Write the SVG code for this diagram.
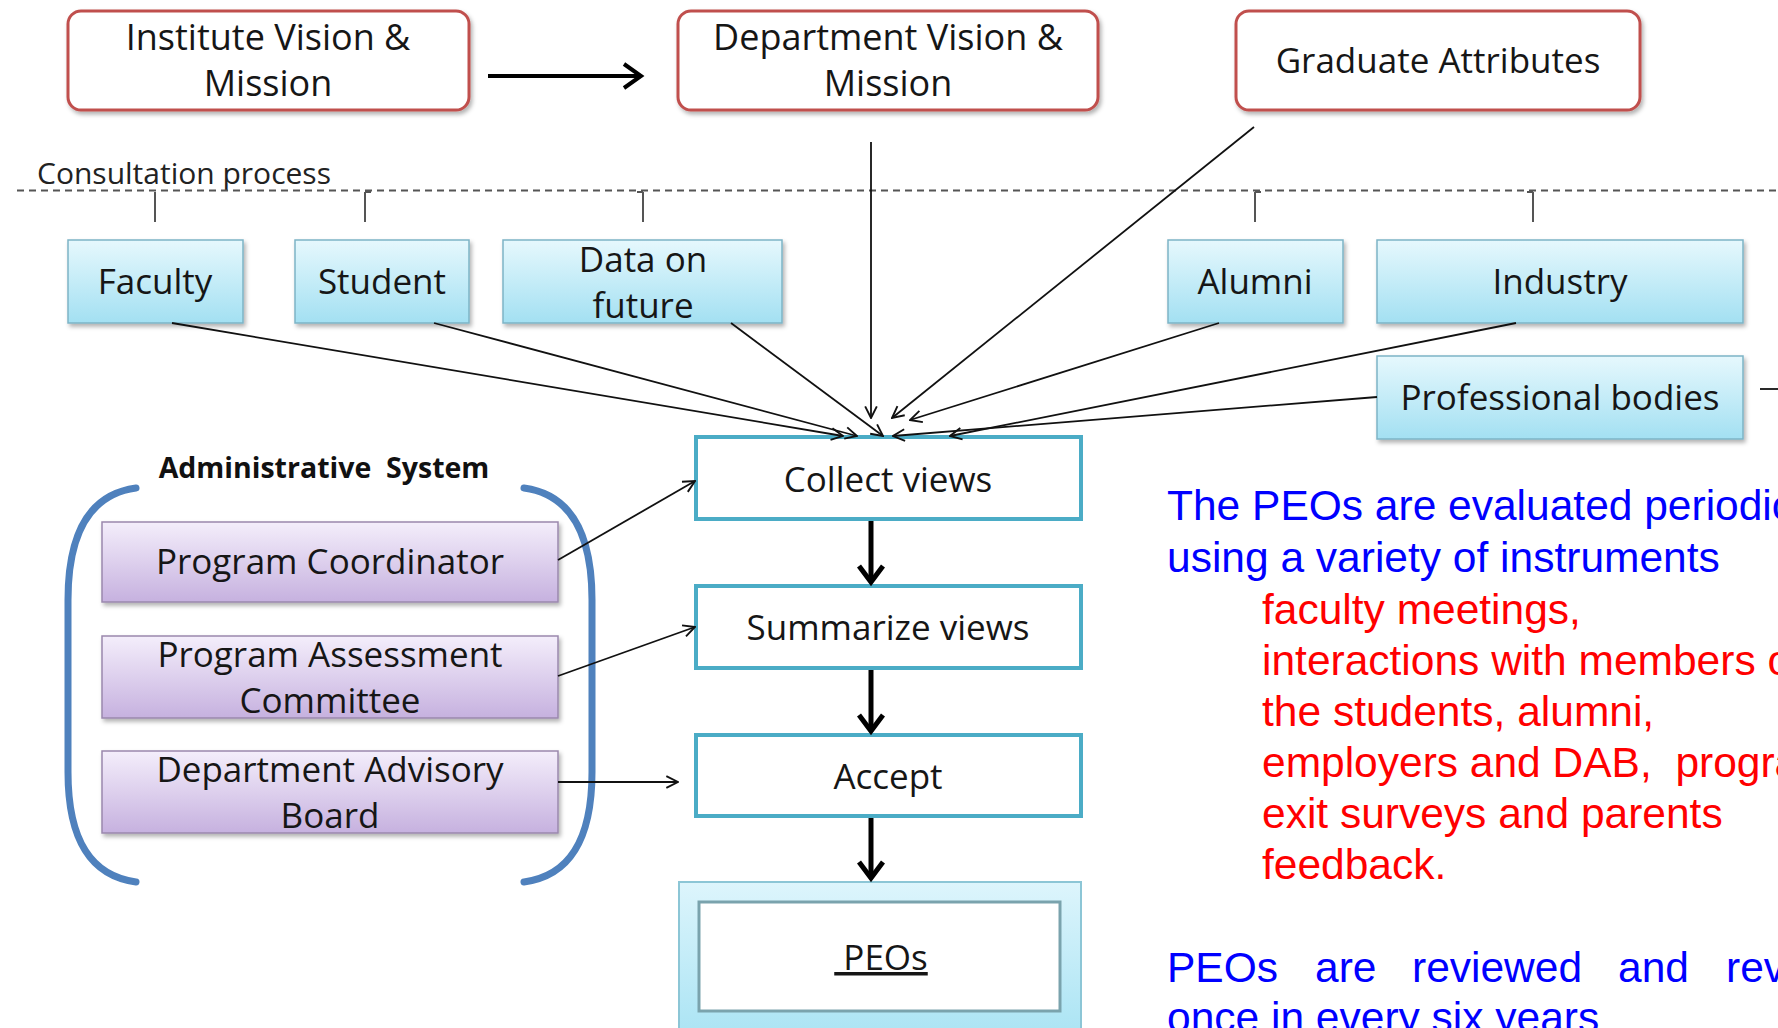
<svg xmlns="http://www.w3.org/2000/svg" width="1778" height="1028" viewBox="0 0 1778 1028">
<defs>
  <linearGradient id="gBlue" x1="0" y1="0" x2="0" y2="1">
    <stop offset="0" stop-color="#e6f8fd"/>
    <stop offset="1" stop-color="#a3e0f2"/>
  </linearGradient>
  <linearGradient id="gPurple" x1="0" y1="0" x2="0" y2="1">
    <stop offset="0" stop-color="#f4eefb"/>
    <stop offset="1" stop-color="#c6b1df"/>
  </linearGradient>
  <linearGradient id="gPeo" x1="0" y1="0" x2="0" y2="1">
    <stop offset="0" stop-color="#ddf5fc"/>
    <stop offset="1" stop-color="#a5e2f3"/>
  </linearGradient>
  <filter id="sh" x="-10%" y="-10%" width="120%" height="130%">
    <feDropShadow dx="2" dy="3" stdDeviation="2" flood-color="#000" flood-opacity="0.3"/>
  </filter>
  <marker id="arr" viewBox="0 0 12 12" refX="11" refY="6" markerWidth="14" markerHeight="14" markerUnits="userSpaceOnUse" orient="auto">
    <path d="M1,1 L11,6 L1,11" fill="none" stroke="#111" stroke-width="1.6"/>
  </marker>
  <style>
    .lbl { font-family: "Open Sans", "Noto Sans", sans-serif; font-size: 35px; fill: #161616; text-anchor: middle; }
    .big { font-size: 36px; }
    .top { fill: #fff; stroke: #c0504d; stroke-width: 3; filter: url(#sh); }
    .blue { fill: url(#gBlue); stroke: #7db4c6; stroke-width: 1.5; filter: url(#sh); }
    .purple { fill: url(#gPurple); stroke: #9a88ad; stroke-width: 1.5; filter: url(#sh); }
    .proc { fill: #fff; stroke: #4bacc6; stroke-width: 4; }
    .thin { stroke: #111; stroke-width: 1.8; fill: none; marker-end: url(#arr); }
    .thick { stroke: #000; stroke-width: 5; fill: none; }
    .tick { stroke: #555; stroke-width: 2; fill: none; }
    .brk { stroke: #4f81bd; stroke-width: 7; fill: none; stroke-linecap: round; }
    .body { font-family: "Liberation Sans", Arial, sans-serif; font-size: 42.5px; }
    .bl { fill: #0000ff; }
    .rd { fill: #ff0000; }
  </style>
</defs>
<rect width="1778" height="1028" fill="#fff"/>

<!-- top boxes -->
<g id="institute">
  <rect class="top" x="68" y="11" width="401" height="99" rx="13"/>
  <text class="lbl big" x="268" y="50">Institute Vision &amp;</text>
  <text class="lbl big" x="268" y="96">Mission</text>
</g>
<g id="department">
  <rect class="top" x="678" y="11" width="420" height="99" rx="13"/>
  <text class="lbl big" x="888" y="50">Department Vision &amp;</text>
  <text class="lbl big" x="888" y="96">Mission</text>
</g>
<g id="graduate">
  <rect class="top" x="1236" y="11" width="404" height="99" rx="13"/>
  <text class="lbl" x="1438" y="73">Graduate Attributes</text>
</g>

<!-- consultation -->
<g id="consultation">
  <text x="37" y="184" style="font-family:'Open Sans','Noto Sans',sans-serif;font-size:30px;fill:#222">Consultation process</text>
  <line x1="17" y1="190.5" x2="1778" y2="190.5" stroke="#555" stroke-width="2" stroke-dasharray="7 5"/>
  <path class="tick" d="M155,192 V222 M365,192 V222 M365,192 H371 M643,192 V222 M637,192 H643 M1255,192 V222 M1255,192 H1261 M1533,192 V222 M1527,192 H1533"/>
</g>

<!-- stakeholder boxes -->
<g id="faculty">
  <rect class="blue" x="68" y="240" width="175" height="83"/>
  <text class="lbl" x="155" y="294">Faculty</text>
</g>
<g id="student">
  <rect class="blue" x="295" y="240" width="174" height="83"/>
  <text class="lbl" x="382" y="294">Student</text>
</g>
<g id="datafuture">
  <rect class="blue" x="503" y="240" width="279" height="83"/>
  <text class="lbl" x="643" y="272">Data on</text>
  <text class="lbl" x="643" y="318">future</text>
</g>
<g id="alumni">
  <rect class="blue" x="1168" y="240" width="175" height="83"/>
  <text class="lbl" x="1255" y="294">Alumni</text>
</g>
<g id="industry">
  <rect class="blue" x="1377" y="240" width="366" height="83"/>
  <text class="lbl" x="1560" y="294">Industry</text>
</g>
<g id="professional">
  <rect class="blue" x="1377" y="356" width="366" height="83"/>
  <text class="lbl" x="1560" y="410">Professional bodies</text>
</g>

<!-- process boxes -->
<g id="collect">
  <rect class="proc" x="696" y="437" width="385" height="82"/>
  <text class="lbl" x="888" y="492">Collect views</text>
</g>
<g id="summarize">
  <rect class="proc" x="696" y="586" width="385" height="82"/>
  <text class="lbl" x="888" y="640">Summarize views</text>
</g>
<g id="accept">
  <rect class="proc" x="696" y="735" width="385" height="81"/>
  <text class="lbl" x="888" y="789">Accept</text>
</g>
<g id="peos">
  <rect x="679" y="882" width="402" height="170" fill="url(#gPeo)" stroke="#8cc6d6" stroke-width="2"/>
  <rect x="699" y="902" width="361" height="109" fill="#fff" stroke="#7aa3ad" stroke-width="3"/>
  <text class="lbl" x="881" y="970" text-decoration="underline" xml:space="preserve"> PEOs</text>
</g>

<!-- administrative system -->
<g id="admin">
  <text x="324" y="478" style="font-family:'Open Sans','Noto Sans',sans-serif;font-size:28.5px;font-weight:bold;fill:#111;text-anchor:middle" xml:space="preserve">Administrative  System</text>
  <path class="brk" d="M136,488 C92,494 68,530 68,600 L68,772 C68,842 92,876 136,882"/>
  <path class="brk" d="M524,488 C568,494 592,530 592,600 L592,772 C592,842 568,876 524,882"/>
</g>
<g id="coordinator">
  <rect class="purple" x="102" y="522" width="456" height="80"/>
  <text class="lbl" x="330" y="574">Program Coordinator</text>
</g>
<g id="assessment">
  <rect class="purple" x="102" y="636" width="456" height="82"/>
  <text class="lbl" x="330" y="667">Program Assessment</text>
  <text class="lbl" x="330" y="713">Committee</text>
</g>
<g id="advisory">
  <rect class="purple" x="102" y="751" width="456" height="82"/>
  <text class="lbl" x="330" y="782">Department Advisory</text>
  <text class="lbl" x="330" y="828">Board</text>
</g>

<!-- connectors -->
<g id="connectors">
  <line x1="488" y1="76" x2="640" y2="76" stroke="#000" stroke-width="4"/>
  <polyline points="624,64 641,76 624,88" fill="none" stroke="#000" stroke-width="4"/>

  <line class="thin" x1="871" y1="142" x2="871" y2="418"/>
  <line class="thin" x1="1254" y1="127" x2="892" y2="418"/>
  <line class="thin" x1="1219" y1="323" x2="910" y2="420"/>
  <line class="thin" x1="1516" y1="323" x2="950" y2="436"/>
  <line class="thin" x1="1377" y1="397" x2="893" y2="436"/>
  <line class="thin" x1="172" y1="323" x2="843" y2="436"/>
  <line class="thin" x1="434" y1="323" x2="857" y2="436"/>
  <line class="thin" x1="731" y1="323" x2="883" y2="436"/>
  <line x1="1760" y1="389" x2="1778" y2="389" stroke="#111" stroke-width="1.8"/>

  <line class="thin" x1="558" y1="560" x2="695" y2="481"/>
  <line class="thin" x1="558" y1="676" x2="695" y2="627"/>
  <line class="thin" x1="558" y1="782" x2="678" y2="782"/>

  <line class="thick" x1="871" y1="521" x2="871" y2="582"/>
  <polyline class="thick" points="859,566 871,582 883,566"/>
  <line class="thick" x1="871" y1="670" x2="871" y2="731"/>
  <polyline class="thick" points="859,715 871,731 883,715"/>
  <line class="thick" x1="871" y1="818" x2="871" y2="878"/>
  <polyline class="thick" points="859,862 871,878 883,862"/>
</g>

<!-- notes -->
<g id="notes" class="body">
  <text class="bl" x="1167" y="520">The PEOs are evaluated periodic</text>
  <text class="bl" x="1167" y="572">using a variety of instruments</text>
  <text class="rd" x="1262" y="624">faculty meetings,</text>
  <text class="rd" x="1262" y="675">interactions with members o</text>
  <text class="rd" x="1262" y="726">the students, alumni,</text>
  <text class="rd" x="1262" y="777" xml:space="preserve">employers and DAB,  progra</text>
  <text class="rd" x="1262" y="828">exit surveys and parents</text>
  <text class="rd" x="1262" y="879">feedback.</text>
  <text class="bl" y="982"><tspan x="1167">PEOs</tspan><tspan x="1315">are</tspan><tspan x="1412">reviewed</tspan><tspan x="1618">and</tspan><tspan x="1726">rev</tspan></text>
  <text class="bl" x="1167" y="1032">once in every six years</text>
</g>
</svg>
